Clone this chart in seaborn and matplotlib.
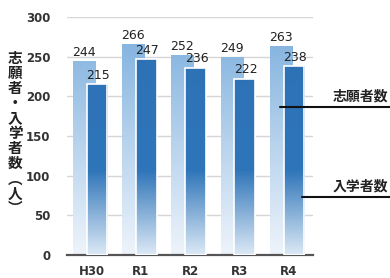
import numpy as np
import pandas as pd
import matplotlib
matplotlib.use("Agg")
import matplotlib.pyplot as plt
import seaborn as sns
from matplotlib.colors import LinearSegmentedColormap
from matplotlib.lines import Line2D

years = ["H30", "R1", "R2", "R3", "R4"]
applicants = [244, 266, 252, 249, 263]
enrolled = [215, 247, 236, 222, 238]
yticks = [0, 50, 100, 150, 200, 250, 300]
ylabel_text = "志願者・入学者数︵人︶"
label_applicants = "志願者数"
label_enrolled = "入学者数"

sns.set_theme(style="white")
plt.rcParams['font.family'] = ['Noto Sans CJK JP', 'DejaVu Sans']

fig = plt.figure(figsize=(3.9, 2.78), dpi=100)
ax = fig.add_axes([0.172, 0.083, 0.631, 0.856])

idx = np.arange(len(years))
pos_a = idx - 0.155
pos_e = idx + 0.11

sns.barplot(x=pos_a, y=applicants, native_scale=True, width=0.45,
            color="#8ab8e2", edgecolor="white", linewidth=0, ax=ax, zorder=2)
n_a = len(ax.patches)
sns.barplot(x=pos_e, y=enrolled, native_scale=True, width=0.42,
            color="#2e74b8", edgecolor="white", linewidth=1.2, ax=ax, zorder=3)

cm_light = LinearSegmentedColormap.from_list("l", [(0, "#eef4fb"), (1, "#86b5e0")])
cm_dark = LinearSegmentedColormap.from_list("d", [(0, "#dce9f6"), (0.4, "#2f75b9"), (1, "#2e72b6")])
for i, p in enumerate(ax.patches):
    x0, y0 = p.get_x(), p.get_y()
    w, h = p.get_width(), p.get_height()
    cmap = cm_light if i < n_a else cm_dark
    grad = np.linspace(0, 1, 512).reshape(-1, 1) * (h / 266.0)
    grad = np.clip(grad, 0, 1)
    im = ax.imshow(grad, cmap=cmap, vmin=0, vmax=1, origin="lower",
                   extent=[x0, x0 + w, y0, y0 + h], aspect="auto",
                   zorder=p.get_zorder() + 0.1, interpolation="bilinear")
    im.set_clip_path(p)
    p.set_facecolor("none")
    if i >= n_a:
        p.set_zorder(p.get_zorder() + 0.2)
ax.set_xlim(-0.5, len(years) - 0.5)
ax.set_ylim(0, 300)

for x, v in zip(pos_a, applicants):
    ax.text(x, v + 3, str(v), ha="center", va="bottom", fontsize=9,
            color="#222222", zorder=6, family=['DejaVu Sans'])
for x, v in zip(pos_e, enrolled):
    ax.text(x + 0.02, v + 3, str(v), ha="center", va="bottom", fontsize=9,
            color="#222222", zorder=6, family=['DejaVu Sans'])

ax.set_yticks(yticks)
ax.set_yticklabels([str(t) for t in yticks], fontsize=8.5, color="#333333",
                   fontweight="bold", family=['DejaVu Sans'])
ax.set_xticks(idx)
ax.set_xticklabels(years, fontsize=8.5, color="#333333", fontweight="bold",
                   family=['DejaVu Sans'])
ax.tick_params(axis="y", length=0, pad=12)
ax.tick_params(axis="x", length=0, pad=7)
ax.grid(axis="y", color="#d6d6d6", linewidth=1.0, zorder=0)
ax.set_axisbelow(True)
for s in ["top", "right", "left"]:
    ax.spines[s].set_visible(False)
ax.spines["bottom"].set_color("#555555")
ax.spines["bottom"].set_linewidth(1.6)
ax.set_xlabel("")
ax.set_ylabel("")

fig.text(15 / 390, 1 - 133 / 278, "\n".join(ylabel_text), ha="center", va="center",
         fontsize=10.5, fontweight="bold", color="#222222", linespacing=0.93)

# annotation lines
fig.add_artist(Line2D([280 / 390, 1.0], [1 - 107 / 278] * 2, color="#111111", linewidth=1.5))
fig.add_artist(Line2D([302 / 390, 1.0], [1 - 197 / 278] * 2, color="#111111", linewidth=1.5))
fig.text(388 / 390, 1 - 104 / 278, label_applicants, ha="right", va="bottom",
         fontsize=10, fontweight="bold", color="#222222")
fig.text(388 / 390, 1 - 194 / 278, label_enrolled, ha="right", va="bottom",
         fontsize=10, fontweight="bold", color="#222222")

fig.savefig("out.png", dpi=100)
